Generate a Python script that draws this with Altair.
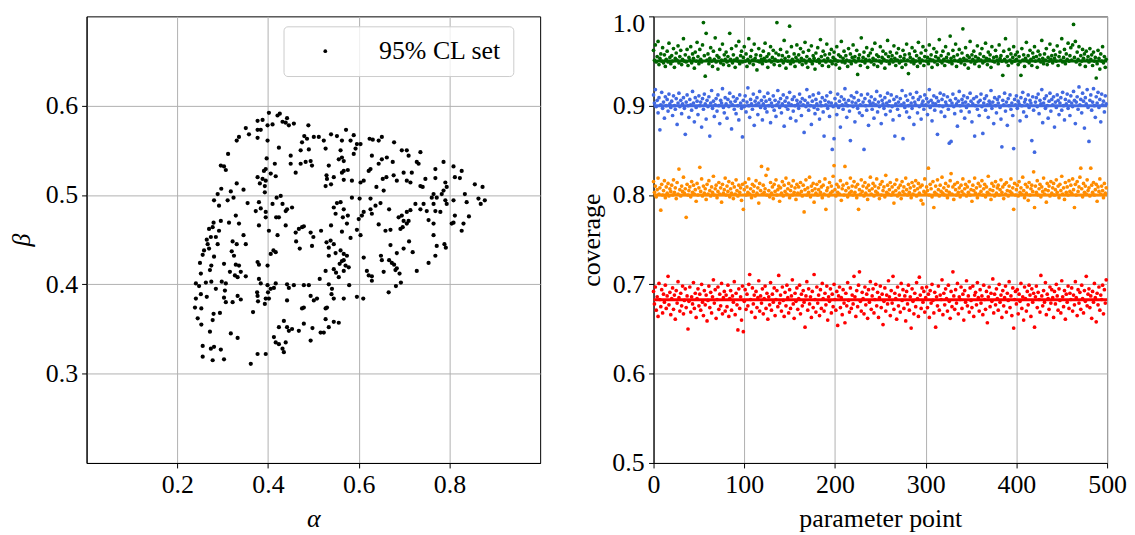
import altair as alt
import pandas as pd

FONT = "Liberation Serif"

# ---- left panel: 95% CL set (alpha, beta) ----
alpha = [
0.402,0.421,0.426,0.442,0.432,0.439,0.446,0.457,0.410,0.399,0.377,0.388,0.377,0.384,0.351,0.358,0.336,0.331,0.377,0.399,
0.489,0.424,0.397,0.395,0.391,0.377,0.388,0.382,0.395,0.393,0.393,0.406,0.417,0.415,0.450,0.450,0.461,0.472,0.475,0.486,
0.490,0.483,0.472,0.497,0.494,0.501,0.512,0.480,0.523,0.527,0.539,0.552,0.563,0.572,0.589,0.582,0.593,0.596,0.604,0.589,
0.560,0.563,0.556,0.567,0.567,0.576,0.563,0.545,0.529,0.530,0.534,0.539,0.527,0.567,0.585,0.604,0.611,0.624,0.631,0.644,
0.651,0.678,0.695,0.706,0.710,0.736,0.629,0.626,0.644,0.651,0.662,0.675,0.622,0.661,0.653,0.677,0.684,0.699,0.706,0.717,
0.714,0.728,0.732,0.747,0.736,0.741,0.769,0.769,0.787,0.791,0.809,0.827,0.812,0.823,0.794,0.787,0.783,0.765,0.761,0.772,
0.791,0.809,0.834,0.856,0.873,0.864,0.869,0.878,0.838,0.843,0.831,0.827,0.809,0.805,0.812,0.780,0.794,0.765,0.769,0.750,
0.754,0.765,0.743,0.736,0.725,0.714,0.706,0.695,0.699,0.710,0.706,0.692,0.697,0.670,0.659,0.688,0.667,0.648,0.637,0.626,
0.629,0.607,0.600,0.611,0.644,0.626,0.602,0.585,0.552,0.545,0.560,0.567,0.576,0.565,0.574,0.563,0.582,0.596,0.604,0.549,
0.539,0.534,0.529,0.538,0.545,0.560,0.567,0.574,0.567,0.563,0.558,0.571,0.578,0.567,0.550,0.545,0.556,0.549,0.534,0.527,
0.514,0.517,0.494,0.500,0.497,0.470,0.462,0.468,0.475,0.479,0.461,0.439,0.421,0.402,0.424,0.418,0.439,0.442,0.453,0.432,
0.419,0.428,0.410,0.395,0.373,0.380,0.384,0.380,0.395,0.355,0.346,0.331,0.318,0.324,0.297,0.289,0.281,0.292,0.311,0.329,
0.336,0.314,0.296,0.280,0.270,0.278,0.292,0.274,0.265,0.267,0.259,0.256,0.270,0.285,0.289,0.281,0.275,0.272,0.250,0.252,
0.241,0.248,0.263,0.275,0.285,0.298,0.307,0.305,0.303,0.307,0.322,0.333,0.340,0.336,0.333,0.329,0.325,0.320,0.322,0.331,
0.346,0.351,0.351,0.340,0.327,0.316,0.303,0.399,0.377,0.380,0.384,0.399,0.406,0.413,0.417,0.400,0.395,0.393,0.402,0.376,
0.377,0.378,0.367,0.380,0.417,0.412,0.406,0.442,0.457,0.479,0.490,0.446,0.442,0.475,0.479,0.494,0.501,0.508,0.527,0.530,
0.540,0.541,0.534,0.545,0.567,0.579,0.596,0.610,0.527,0.545,0.556,0.534,0.523,0.516,0.498,0.479,0.468,0.453,0.446,0.442,
0.435,0.424,0.413,0.417,0.424,0.439,0.432,0.435,0.494,0.395,0.377,0.362,0.333,0.318,0.296,0.281,0.274,0.256,0.256,0.278,
0.303,0.272,0.253,0.245,0.253,0.239,0.241,0.252,0.265,0.280,0.278,0.294,0.296,0.303,0.307,0.312,0.639,0.655,0.649,0.651,
0.667,0.673,0.678,0.684,0.681,0.690,0.693,0.682,0.666,0.655,0.629,0.629,0.618,0.622,0.611,0.670,0.684,0.699,0.711,0.719,
0.728,0.754,0.769,0.789,0.792,0.765,0.772,
]
beta = [
0.592,0.589,0.591,0.586,0.582,0.581,0.578,0.580,0.579,0.578,0.583,0.584,0.573,0.573,0.575,0.568,0.565,0.561,0.564,0.561,
0.578,0.553,0.541,0.529,0.527,0.520,0.518,0.513,0.516,0.510,0.503,0.524,0.521,0.535,0.544,0.535,0.525,0.550,0.559,0.563,
0.551,0.537,0.535,0.533,0.538,0.565,0.565,0.566,0.561,0.552,0.568,0.566,0.561,0.573,0.567,0.561,0.552,0.557,0.557,0.546,
0.550,0.542,0.540,0.538,0.527,0.528,0.525,0.520,0.522,0.518,0.533,0.512,0.510,0.517,0.516,0.514,0.516,0.563,0.562,0.561,
0.565,0.559,0.550,0.550,0.544,0.548,0.544,0.529,0.535,0.540,0.542,0.537,0.527,0.520,0.518,0.522,0.516,0.525,0.516,0.525,
0.514,0.537,0.535,0.518,0.510,0.509,0.529,0.519,0.537,0.514,0.532,0.527,0.520,0.519,0.509,0.505,0.501,0.501,0.497,0.497,
0.494,0.494,0.501,0.512,0.509,0.496,0.490,0.494,0.492,0.476,0.468,0.460,0.469,0.468,0.477,0.481,0.490,0.490,0.482,0.482,
0.472,0.468,0.490,0.484,0.490,0.483,0.481,0.477,0.471,0.471,0.468,0.462,0.464,0.461,0.460,0.475,0.484,0.491,0.488,0.484,
0.479,0.477,0.473,0.481,0.467,0.496,0.496,0.497,0.491,0.486,0.492,0.484,0.477,0.475,0.468,0.459,0.452,0.461,0.455,0.479,
0.466,0.441,0.447,0.449,0.445,0.438,0.434,0.432,0.427,0.426,0.423,0.421,0.419,0.415,0.413,0.417,0.408,0.435,0.432,0.415,
0.406,0.460,0.458,0.453,0.443,0.440,0.448,0.462,0.464,0.465,0.458,0.466,0.455,0.460,0.475,0.475,0.482,0.484,0.486,0.490,
0.497,0.499,0.490,0.481,0.482,0.492,0.485,0.466,0.475,0.491,0.506,0.513,0.504,0.497,0.507,0.501,0.494,0.488,0.494,0.477,
0.468,0.469,0.471,0.469,0.462,0.464,0.460,0.453,0.450,0.445,0.438,0.433,0.440,0.453,0.445,0.431,0.421,0.416,0.424,0.412,
0.401,0.398,0.402,0.403,0.395,0.403,0.401,0.393,0.385,0.380,0.380,0.387,0.383,0.421,0.408,0.422,0.432,0.437,0.448,0.445,
0.455,0.445,0.409,0.414,0.410,0.414,0.423,0.421,0.425,0.422,0.401,0.399,0.395,0.396,0.401,0.391,0.384,0.378,0.384,0.391,
0.387,0.381,0.369,0.406,0.436,0.438,0.434,0.400,0.399,0.399,0.399,0.396,0.382,0.373,0.374,0.387,0.382,0.384,0.373,0.374,
0.389,0.395,0.400,0.384,0.384,0.399,0.386,0.384,0.361,0.358,0.357,0.352,0.346,0.346,0.351,0.356,0.348,0.350,0.348,0.352,
0.359,0.352,0.341,0.335,0.333,0.335,0.328,0.324,0.337,0.322,0.322,0.311,0.340,0.345,0.327,0.330,0.328,0.331,0.319,0.315,
0.316,0.347,0.355,0.362,0.373,0.374,0.384,0.389,0.386,0.367,0.360,0.368,0.533,0.532,0.528,0.546,0.509,0.505,0.432,0.427,
0.427,0.424,0.422,0.418,0.416,0.412,0.402,0.398,0.391,0.414,0.404,0.409,0.415,0.410,0.430,0.444,0.435,0.440,0.448,0.436,
0.415,0.424,0.432,0.445,0.441,0.455,0.443,
]

# ---- right panel: coverage per parameter point ----
green = [
0.962,0.951,0.968,0.949,0.955,0.972,0.946,0.953,0.958,0.950,0.965,0.948,0.957,0.944,0.952,0.961,0.949,0.970,0.954,0.947,
0.956,0.950,0.964,0.943,0.953,0.959,0.951,0.967,0.948,0.955,0.962,0.946,0.952,0.975,0.950,0.957,0.949,0.963,0.945,0.954,
0.951,0.966,0.948,0.958,0.953,0.942,0.960,0.950,0.971,0.955,0.947,0.963,0.952,0.949,0.968,0.993,0.956,0.933,0.981,0.951,
0.958,0.947,0.953,0.965,0.950,0.944,0.961,0.952,0.976,0.949,0.956,0.941,0.954,0.963,0.948,0.951,0.969,0.946,0.957,0.952,
0.960,0.949,0.955,0.945,0.981,0.952,0.964,0.948,0.957,0.951,0.943,0.967,0.953,0.950,0.972,0.947,0.956,0.961,0.949,0.954,
0.966,0.950,0.958,0.944,0.952,0.975,0.948,0.955,0.962,0.951,0.946,0.969,0.953,0.957,0.940,0.950,0.964,0.949,0.956,0.952,
0.947,0.961,0.953,0.970,0.950,0.955,0.943,0.958,0.951,0.966,0.949,0.954,0.962,0.946,0.952,0.959,0.993,0.950,0.957,0.945,
0.963,0.951,0.956,0.948,0.973,0.953,0.942,0.960,0.950,0.955,0.989,0.947,0.966,0.952,0.949,0.958,0.944,0.954,0.968,0.951,
0.957,0.949,0.964,0.953,0.946,0.960,0.951,0.971,0.948,0.955,0.943,0.962,0.952,0.950,0.967,0.947,0.956,0.953,0.941,0.959,
0.950,0.965,0.952,0.948,0.974,0.955,0.945,0.961,0.951,0.957,0.949,0.969,0.953,0.944,0.958,0.950,0.963,0.947,0.954,0.960,
0.952,0.946,0.966,0.950,0.957,0.942,0.955,0.972,0.949,0.953,0.961,0.948,0.956,0.951,0.944,0.964,0.950,0.958,0.947,0.954,
0.968,0.951,0.955,0.949,0.962,0.935,0.953,0.957,0.945,0.976,0.950,0.954,0.960,0.948,0.952,0.965,0.943,0.956,0.951,0.959,
0.949,0.963,0.953,0.946,0.970,0.951,0.957,0.944,0.955,0.950,0.966,0.948,0.954,0.961,0.952,0.942,0.958,0.950,0.973,0.955,
0.947,0.960,0.952,0.956,0.949,0.967,0.953,0.945,0.959,0.951,0.964,0.948,0.955,0.950,0.943,0.962,0.953,0.957,0.946,0.969,
0.951,0.936,0.958,0.954,0.949,0.965,0.952,0.947,0.961,0.950,0.956,0.944,0.971,0.953,0.948,0.959,0.951,0.966,0.945,0.955,
0.962,0.950,0.954,0.947,0.968,0.952,0.957,0.943,0.951,0.964,0.949,0.955,0.960,0.946,0.953,0.974,0.950,0.956,0.948,0.961,
0.952,0.945,0.966,0.954,0.950,0.958,0.949,0.978,0.953,0.947,0.962,0.955,0.951,0.969,0.944,0.957,0.950,0.963,0.952,0.948,
0.959,0.986,0.953,0.946,0.965,0.951,0.956,0.942,0.954,0.972,0.949,0.957,0.952,0.961,0.947,0.955,0.950,0.967,0.953,0.944,
0.958,0.951,0.964,0.948,0.955,0.950,0.970,0.953,0.946,0.960,0.952,0.957,0.943,0.966,0.950,0.954,0.949,0.962,0.955,0.951,
0.947,0.968,0.953,0.956,0.950,0.934,0.961,0.952,0.975,0.949,0.955,0.945,0.963,0.951,0.958,0.948,0.954,0.966,0.950,0.957,
0.952,0.960,0.946,0.955,0.949,0.934,0.964,0.951,0.957,0.944,0.953,0.971,0.950,0.956,0.948,0.962,0.952,0.945,0.959,0.954,
0.966,0.950,0.955,0.943,0.961,0.952,0.957,0.949,0.973,0.953,0.947,0.958,0.951,0.964,0.946,0.954,0.950,0.969,0.952,0.956,
0.948,0.962,0.953,0.957,0.950,0.967,0.945,0.955,0.960,0.951,0.975,0.949,0.954,0.963,0.947,0.958,0.952,0.970,0.950,0.956,
0.965,0.951,0.968,0.991,0.954,0.972,0.949,0.960,0.952,0.966,0.946,0.956,0.950,0.963,0.953,0.958,0.944,0.961,0.951,0.955,
0.949,0.964,0.952,0.957,0.945,0.960,0.950,0.954,0.931,0.947,0.962,0.953,0.941,0.958,0.950,0.966,0.948,0.955,0.943,0.952,
]
blue = [
0.912,0.903,0.918,0.899,0.906,0.892,0.909,0.873,0.901,0.915,0.897,0.904,0.886,0.910,0.900,0.907,0.894,0.913,0.902,0.898,
0.905,0.889,0.911,0.900,0.896,0.908,0.879,0.903,0.914,0.899,0.906,0.891,0.902,0.909,0.897,0.868,0.904,0.912,0.900,0.887,
0.907,0.901,0.895,0.916,0.903,0.882,0.909,0.898,0.905,0.890,0.911,0.900,0.904,0.876,0.908,0.896,0.913,0.902,0.885,0.906,
0.899,0.910,0.866,0.903,0.917,0.897,0.905,0.888,0.901,0.908,0.894,0.912,0.900,0.880,0.906,0.903,0.919,0.898,0.892,0.909,
0.902,0.886,0.907,0.899,0.914,0.904,0.874,0.901,0.910,0.896,0.905,0.891,0.908,0.900,0.884,0.912,0.903,0.897,0.865,0.906,
0.899,0.911,0.893,0.904,0.920,0.900,0.887,0.907,0.902,0.896,0.913,0.878,0.905,0.901,0.909,0.890,0.903,0.916,0.898,0.906,
0.884,0.902,0.910,0.897,0.905,0.893,0.914,0.900,0.907,0.881,0.903,0.899,0.911,0.895,0.906,0.888,0.901,0.917,0.904,0.898,
0.908,0.892,0.902,0.912,0.877,0.905,0.899,0.909,0.896,0.903,0.915,0.886,0.901,0.907,0.894,0.910,0.900,0.883,0.906,0.902,
0.897,0.913,0.904,0.889,0.908,0.901,0.870,0.906,0.899,0.918,0.903,0.895,0.910,0.900,0.879,0.905,0.912,0.898,0.891,0.907,
0.902,0.896,0.914,0.885,0.904,0.900,0.909,0.893,0.866,0.906,0.901,0.911,0.897,0.904,0.888,0.915,0.903,0.851,0.899,0.863,
0.908,0.902,0.890,0.913,0.898,0.905,0.876,0.910,0.901,0.896,0.907,0.919,0.903,0.887,0.900,0.906,0.894,0.861,0.911,0.904,
0.899,0.909,0.882,0.903,0.915,0.897,0.906,0.892,0.901,0.912,0.889,0.904,0.851,0.908,0.900,0.895,0.913,0.878,0.905,0.902,
0.910,0.896,0.903,0.886,0.907,0.901,0.916,0.893,0.904,0.899,0.911,0.880,0.906,0.902,0.897,0.909,0.890,0.903,0.914,0.900,
0.905,0.894,0.912,0.899,0.884,0.907,0.866,0.902,0.910,0.896,0.904,0.889,0.908,0.901,0.917,0.863,0.903,0.898,0.911,0.893,
0.906,0.900,0.887,0.913,0.903,0.897,0.909,0.879,0.904,0.901,0.915,0.892,0.907,0.899,0.910,0.885,0.902,0.905,0.896,0.912,
0.901,0.908,0.890,0.904,0.918,0.898,0.906,0.883,0.903,0.911,0.895,0.902,0.909,0.868,0.905,0.900,0.914,0.893,0.907,0.899,
0.912,0.888,0.904,0.901,0.910,0.896,0.858,0.906,0.860,0.903,0.913,0.899,0.891,0.908,0.902,0.877,0.905,0.916,0.900,0.894,
0.907,0.903,0.911,0.886,0.904,0.898,0.909,0.901,0.893,0.914,0.905,0.882,0.902,0.908,0.866,0.900,0.910,0.896,0.904,0.889,
0.906,0.913,0.899,0.869,0.903,0.908,0.895,0.911,0.901,0.887,0.905,0.902,0.917,0.897,0.904,0.880,0.909,0.900,0.892,0.907,
0.903,0.910,0.898,0.885,0.854,0.906,0.901,0.914,0.894,0.904,0.878,0.908,0.900,0.912,0.896,0.903,0.889,0.852,0.907,0.901,
0.911,0.897,0.905,0.902,0.883,0.909,0.900,0.915,0.893,0.904,0.907,0.888,0.901,0.912,0.898,0.906,0.903,0.861,0.910,0.895,
0.848,0.904,0.909,0.899,0.913,0.891,0.906,0.902,0.918,0.881,0.903,0.908,0.897,0.911,0.900,0.886,0.905,0.914,0.894,0.907,
0.901,0.910,0.876,0.904,0.898,0.912,0.906,0.890,0.903,0.909,0.895,0.915,0.900,0.884,0.907,0.902,0.913,0.897,0.905,0.889,
0.911,0.903,0.899,0.916,0.906,0.880,0.904,0.910,0.896,0.921,0.901,0.907,0.892,0.914,0.905,0.875,0.909,0.902,0.918,0.898,
0.860,0.906,0.912,0.895,0.904,0.919,0.900,0.887,0.910,0.903,0.915,0.898,0.907,0.882,0.913,0.901,0.905,0.893,0.911,0.902,
]
orange = [
0.815,0.803,0.810,0.798,0.806,0.819,0.801,0.808,0.783,0.812,0.800,0.805,0.816,0.797,0.809,0.802,0.813,0.799,0.807,0.804,
0.811,0.800,0.817,0.803,0.808,0.796,0.814,0.801,0.829,0.806,0.799,0.810,0.804,0.820,0.802,0.807,0.775,0.812,0.800,0.805,
0.809,0.798,0.815,0.803,0.811,0.801,0.806,0.793,0.813,0.800,0.808,0.831,0.804,0.818,0.799,0.810,0.802,0.807,0.795,0.812,
0.801,0.816,0.805,0.799,0.809,0.803,0.821,0.800,0.807,0.811,0.797,0.804,0.814,0.801,0.808,0.792,0.812,0.802,0.806,0.819,
0.800,0.810,0.804,0.815,0.798,0.807,0.802,0.813,0.796,0.809,0.801,0.817,0.805,0.799,0.811,0.803,0.808,0.794,0.812,0.784,
0.806,0.814,0.800,0.809,0.803,0.818,0.801,0.807,0.797,0.812,0.804,0.810,0.799,0.816,0.802,0.808,0.791,0.813,0.805,0.832,
0.801,0.811,0.803,0.807,0.822,0.800,0.829,0.805,0.798,0.814,0.802,0.809,0.796,0.812,0.804,0.817,0.800,0.806,0.810,0.793,
0.808,0.802,0.815,0.799,0.811,0.804,0.819,0.801,0.807,0.813,0.797,0.805,0.810,0.800,0.816,0.803,0.808,0.795,0.812,0.802,
0.809,0.801,0.814,0.804,0.799,0.811,0.781,0.806,0.817,0.800,0.808,0.803,0.820,0.798,0.810,0.805,0.813,0.792,0.807,0.802,
0.812,0.800,0.806,0.815,0.803,0.809,0.797,0.811,0.801,0.818,0.784,0.805,0.808,0.799,0.814,0.802,0.810,0.804,0.821,0.833,
0.806,0.799,0.812,0.803,0.809,0.801,0.816,0.794,0.807,0.811,0.800,0.832,0.805,0.813,0.798,0.808,0.802,0.819,0.804,0.810,
0.800,0.815,0.803,0.809,0.797,0.812,0.784,0.806,0.801,0.817,0.804,0.810,0.799,0.814,0.802,0.808,0.795,0.811,0.805,0.820,
0.801,0.807,0.813,0.799,0.810,0.804,0.818,0.802,0.808,0.796,0.812,0.800,0.815,0.805,0.809,0.798,0.822,0.803,0.811,0.801,
0.806,0.814,0.800,0.809,0.803,0.791,0.812,0.805,0.817,0.799,0.808,0.802,0.811,0.796,0.815,0.804,0.809,0.801,0.819,0.806,
0.800,0.812,0.803,0.808,0.797,0.814,0.801,0.810,0.805,0.816,0.799,0.807,0.813,0.802,0.809,0.794,0.811,0.790,0.804,0.818,
0.802,0.809,0.805,0.830,0.800,0.812,0.807,0.798,0.815,0.786,0.803,0.810,0.801,0.817,0.806,0.799,0.811,0.804,0.820,0.802,
0.808,0.800,0.813,0.805,0.797,0.810,0.803,0.816,0.824,0.801,0.809,0.795,0.812,0.806,0.800,0.814,0.803,0.808,0.798,0.811,
0.804,0.818,0.801,0.807,0.812,0.799,0.809,0.803,0.815,0.800,0.806,0.793,0.811,0.805,0.819,0.802,0.808,0.797,0.813,0.801,
0.810,0.804,0.816,0.800,0.807,0.812,0.798,0.809,0.803,0.821,0.801,0.806,0.795,0.813,0.805,0.810,0.799,0.815,0.802,0.808,
0.811,0.800,0.806,0.817,0.803,0.809,0.796,0.812,0.801,0.814,0.805,0.799,0.810,0.804,0.818,0.802,0.808,0.784,0.813,0.800,
0.806,0.811,0.799,0.815,0.803,0.808,0.801,0.820,0.805,0.797,0.812,0.802,0.809,0.794,0.814,0.800,0.807,0.811,0.804,0.826,
0.786,0.810,0.803,0.816,0.800,0.807,0.812,0.798,0.809,0.804,0.819,0.801,0.806,0.792,0.813,0.805,0.810,0.799,0.815,0.802,
0.808,0.813,0.800,0.806,0.817,0.803,0.810,0.797,0.812,0.805,0.821,0.801,0.808,0.795,0.814,0.803,0.809,0.800,0.816,0.804,
0.811,0.802,0.818,0.806,0.786,0.812,0.800,0.815,0.804,0.809,0.820,0.830,0.807,0.798,0.813,0.803,0.810,0.801,0.817,0.805,
0.808,0.799,0.830,0.811,0.803,0.814,0.800,0.806,0.812,0.793,0.809,0.804,0.818,0.801,0.810,0.805,0.797,0.813,0.802,0.808,
]
red = [
0.692,0.678,0.697,0.671,0.686,0.664,0.701,0.683,0.675,0.694,0.668,0.689,0.680,0.699,0.673,0.687,0.709,0.677,0.691,0.666,
0.684,0.696,0.672,0.688,0.661,0.693,0.679,0.703,0.685,0.670,0.690,0.676,0.698,0.667,0.682,0.695,0.674,0.687,0.650,0.681,
0.697,0.669,0.686,0.678,0.702,0.673,0.690,0.663,0.684,0.695,0.676,0.689,0.671,0.700,0.680,0.665,0.693,0.677,0.688,0.659,
0.682,0.698,0.674,0.691,0.668,0.686,0.705,0.679,0.694,0.662,0.683,0.697,0.672,0.689,0.676,0.701,0.667,0.685,0.692,0.670,
0.688,0.675,0.699,0.664,0.684,0.693,0.671,0.687,0.680,0.703,0.666,0.690,0.677,0.649,0.695,0.673,0.686,0.660,0.698,0.647,
0.681,0.694,0.672,0.689,0.676,0.700,0.711,0.683,0.669,0.696,0.678,0.688,0.663,0.692,0.674,0.685,0.704,0.670,0.687,0.679,
0.695,0.667,0.684,0.698,0.673,0.690,0.661,0.686,0.677,0.702,0.671,0.689,0.680,0.696,0.665,0.683,0.693,0.675,0.710,0.679,
0.688,0.670,0.697,0.682,0.664,0.691,0.676,0.699,0.685,0.668,0.694,0.673,0.687,0.705,0.678,0.662,0.690,0.681,0.696,0.672,
0.684,0.699,0.667,0.689,0.676,0.693,0.680,0.652,0.687,0.703,0.671,0.695,0.678,0.686,0.663,0.692,0.674,0.711,0.683,0.669,
0.697,0.679,0.688,0.665,0.694,0.673,0.701,0.684,0.670,0.690,0.677,0.698,0.660,0.686,0.681,0.695,0.668,0.689,0.675,0.700,
0.683,0.671,0.692,0.654,0.687,0.697,0.674,0.685,0.666,0.694,0.679,0.657,0.690,0.676,0.702,0.682,0.669,0.696,0.673,0.688,
0.678,0.709,0.686,0.664,0.693,0.675,0.699,0.714,0.681,0.670,0.691,0.684,0.667,0.697,0.677,0.689,0.662,0.694,0.680,0.703,
0.672,0.687,0.695,0.668,0.683,0.700,0.676,0.691,0.663,0.685,0.698,0.674,0.689,0.655,0.681,0.696,0.670,0.688,0.678,0.704,
0.686,0.665,0.693,0.679,0.709,0.672,0.690,0.684,0.661,0.697,0.676,0.688,0.669,0.701,0.682,0.694,0.673,0.687,0.659,0.692,
0.678,0.699,0.671,0.686,0.651,0.695,0.681,0.667,0.690,0.675,0.702,0.684,0.664,0.708,0.688,0.673,0.696,0.680,0.692,0.669,
0.685,0.697,0.674,0.689,0.663,0.693,0.679,0.700,0.682,0.668,0.691,0.652,0.686,0.676,0.698,0.671,0.688,0.683,0.705,0.666,
0.690,0.677,0.695,0.684,0.670,0.699,0.681,0.662,0.692,0.675,0.714,0.687,0.672,0.694,0.679,0.701,0.667,0.686,0.683,0.697,
0.673,0.689,0.660,0.693,0.680,0.704,0.676,0.687,0.669,0.696,0.682,0.674,0.698,0.664,0.688,0.691,0.677,0.702,0.685,0.670,
0.694,0.679,0.687,0.666,0.699,0.683,0.672,0.692,0.657,0.686,0.697,0.675,0.690,0.681,0.706,0.668,0.689,0.677,0.695,0.684,
0.671,0.700,0.680,0.688,0.663,0.693,0.676,0.685,0.698,0.669,0.690,0.682,0.703,0.674,0.687,0.665,0.696,0.651,0.683,0.692,
0.678,0.694,0.667,0.689,0.681,0.701,0.673,0.686,0.660,0.697,0.684,0.670,0.692,0.677,0.699,0.688,0.664,0.695,0.680,0.690,
0.652,0.686,0.698,0.674,0.691,0.683,0.669,0.710,0.687,0.676,0.693,0.680,0.702,0.666,0.689,0.684,0.672,0.697,0.679,0.694,
0.685,0.663,0.692,0.678,0.700,0.687,0.671,0.695,0.682,0.668,0.704,0.686,0.675,0.693,0.661,0.689,0.680,0.698,0.673,0.690,
0.683,0.696,0.670,0.688,0.677,0.703,0.685,0.665,0.694,0.679,0.691,0.672,0.699,0.684,0.668,0.693,0.681,0.709,0.676,0.689,
0.695,0.674,0.687,0.662,0.692,0.680,0.701,0.685,0.658,0.690,0.677,0.697,0.671,0.688,0.683,0.699,0.667,0.694,0.679,0.705,
]

series_names = ["red", "orange", "blue", "green"]
series_colors = ["#ff0000", "#ff8c00", "#4169e1", "#006400"]
targets = [0.6827, 0.80, 0.90, 0.95]

x_ticks_left = [0.2, 0.4, 0.6, 0.8]
y_ticks_left = [0.3, 0.4, 0.5, 0.6]
x_ticks_right = [0, 100, 200, 300, 400, 500]
y_ticks_right = [0.5, 0.6, 0.7, 0.8, 0.9, 1.0]
y_bottom_label = ["0.5"]

# ---- data frames ----
left_df = pd.DataFrame({"alpha": alpha, "beta": beta})
left_df["set"] = "95% CL set"

rows = []
for name, vals in zip(series_names, [red, orange, blue, green]):
    for i, v in enumerate(vals):
        rows.append({"point": i, "coverage": v, "series": name})
right_df = pd.DataFrame(rows)
lines_df = pd.DataFrame({"series": series_names, "target": targets})
bottom_label_df = pd.DataFrame({"coverage": [y_ticks_right[0]], "label": y_bottom_label})

W, H = 456, 449

left = alt.Chart(left_df).mark_circle(size=18, opacity=1).encode(
    x=alt.X("alpha:Q", scale=alt.Scale(domain=[0, 1], nice=False, zero=False),
            axis=alt.Axis(values=x_ticks_left, format=".1f", title="α", titleFontStyle="italic")),
    y=alt.Y("beta:Q", scale=alt.Scale(domain=[0.2, 0.7], nice=False, zero=False),
            axis=alt.Axis(values=y_ticks_left, format=".1f", title="β", titleFontStyle="italic",
                          titlePadding=11)),
    color=alt.Color("set:N", scale=alt.Scale(range=["black"]),
                    legend=alt.Legend(title=None, orient="none", legendX=198, legendY=10,
                                      fillColor="rgba(255,255,255,0.8)", strokeColor="#cccccc",
                                      cornerRadius=4, padding=12, symbolType="circle",
                                      symbolSize=14, symbolStrokeWidth=0, symbolOffset=17,
                                      labelOffset=41, labelFont=FONT, labelFontSize=26,
                                      labelColor="black", labelLimit=0)),
).properties(width=W, height=H)

color_scale = alt.Scale(domain=series_names, range=series_colors)

pts = alt.Chart(right_df).mark_circle(size=14, opacity=1).encode(
    x=alt.X("point:Q", scale=alt.Scale(domain=[0, 500], nice=False),
            axis=alt.Axis(values=x_ticks_right, title="parameter point")),
    y=alt.Y("coverage:Q", scale=alt.Scale(domain=[0.5, 1.0], nice=False, zero=False),
            axis=alt.Axis(values=y_ticks_right, format=".1f", title="coverage",
                          labelFlush=True, labelFlushOffset=6,
                          labelExpr="datum.value <= 0.5 ? '' : datum.label")),
    color=alt.Color("series:N", scale=color_scale, legend=None),
)
lines = alt.Chart(lines_df).mark_rule(strokeWidth=3).encode(
    y=alt.Y("target:Q"),
    color=alt.Color("series:N", scale=color_scale, legend=None),
)
bottom_label = alt.Chart(bottom_label_df).mark_text(
    align="right", baseline="middle", font=FONT, fontSize=26, color="black"
).encode(y=alt.Y("coverage:Q"), x=alt.value(-9), text="label:N")

right = alt.layer(pts, lines, bottom_label).properties(width=W, height=H)

chart = alt.hconcat(left, right, spacing=37).resolve_scale(color="independent").configure(
    font=FONT, padding={"left": 0, "top": 0, "right": 0, "bottom": 0}
).configure_axis(
    labelFont=FONT, titleFont=FONT, labelFontSize=26, titleFontSize=26,
    labelColor="black", titleColor="black", domainColor="black", tickColor="black",
    gridColor="#b0b0b0", gridWidth=1, tickSize=5, labelPadding=4, titlePadding=8,
    titleFontWeight="normal", labelFlush=False, labelOverlap=False, domainWidth=1,
).configure_view(stroke="black", strokeWidth=1)

chart.save("out.html", embed_options={"renderer": "svg", "actions": False})
